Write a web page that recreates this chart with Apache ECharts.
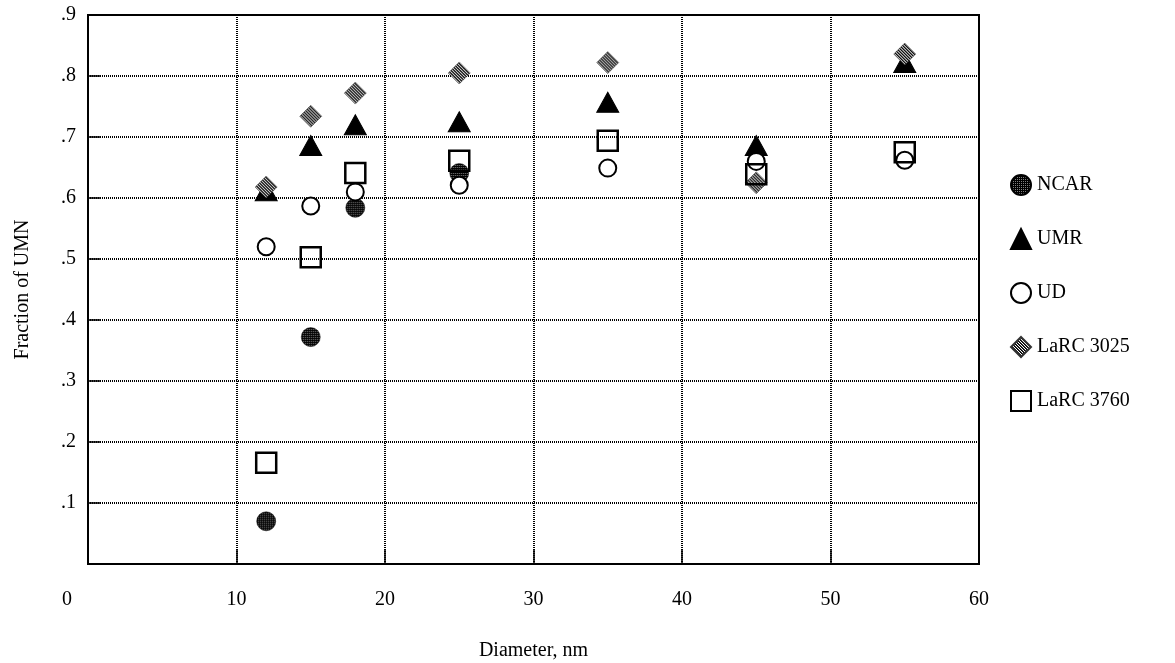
<!DOCTYPE html>
<html>
<head>
<meta charset="utf-8">
<script src="https://cdn.jsdelivr.net/npm/echarts@6/dist/echarts.min.js"></script>
<style>
  html, body { margin: 0; padding: 0; background: #fff; }
  #chart { width: 1175px; height: 663px; }
</style>
</head>
<body>
<div id="chart"></div>
<script>
// Particle diameters (nm) at which each instrument was compared
const diameters = [12, 15, 18, 25, 35, 45, 55];
// Fraction of UMN counts, per instrument (null = not measured)
const ncar     = [0.070, 0.372, 0.584, 0.641, null, null, null];
const umr      = [0.612, 0.686, 0.720, 0.725, 0.757, 0.686, 0.822];
const ud       = [0.520, 0.587, 0.610, 0.621, 0.649, 0.660, 0.662];
const larc3025 = [0.618, 0.734, 0.772, 0.805, 0.822, 0.625, 0.836];
const larc3760 = [0.166, 0.503, 0.641, 0.661, 0.694, 0.639, 0.675];

const seriesNames = ['NCAR', 'UMR', 'UD', 'LaRC 3025', 'LaRC 3760'];

const FONT = 'Liberation Serif';
const NCAR_SIZE = 19;
const DIAMOND_SIZE = 22;

// Scatter symbols are unit paths scaled by size/2, so a fill pattern
// is shrunk by the inverse factor to stay at one texel per pixel.
function stipplePattern(symbolSize) {
  const c = document.createElement('canvas');
  c.width = 2; c.height = 2;
  const g = c.getContext('2d');
  g.fillStyle = '#000';
  g.fillRect(0, 0, 2, 2);
  g.fillStyle = '#808080';
  g.fillRect(0, 0, 1, 1);
  const s = symbolSize ? 2 / symbolSize : 1;
  return { image: c, repeat: 'repeat', scaleX: s, scaleY: s };
}

// Diagonal hatching for the LaRC 3025 diamonds
function hatchPattern(symbolSize) {
  const c = document.createElement('canvas');
  c.width = 3; c.height = 3;
  const g = c.getContext('2d');
  g.fillStyle = '#fff';
  g.fillRect(0, 0, 3, 3);
  g.fillStyle = '#000';
  for (let i = 0; i < 3; i++) g.fillRect(i, i, 1, 1);
  g.fillStyle = '#333';
  for (let i = 0; i < 3; i++) g.fillRect((i + 1) % 3, i, 1, 1);
  const s = symbolSize ? 2 / symbolSize : 1;
  return { image: c, repeat: 'repeat', scaleX: s, scaleY: s };
}

function pairs(vals) {
  return diameters.map((d, i) => vals[i] == null ? null : [d, vals[i]]).filter(p => p);
}

const chart = echarts.init(document.getElementById('chart'), null, { renderer: 'canvas' });

const dotted = { color: '#000', width: 2, type: [1, 1] };

chart.setOption({
  animation: false,
  backgroundColor: '#fff',
  grid: {
    left: 88, right: 196, top: 15, bottom: 99,
    outerBoundsMode: 'none', containLabel: false,
    show: true, borderColor: '#000', borderWidth: 2, backgroundColor: 'transparent'
  },
  legend: {
    orient: 'vertical',
    left: 1005, top: 169,
    itemWidth: 20, itemHeight: 20, itemGap: 32,
    textStyle: { fontFamily: FONT, fontSize: 20, color: '#000', padding: [0, 0, 0, 1] },
    data: [
      { name: 'NCAR', itemStyle: { color: stipplePattern(0) } },
      { name: 'UMR' },
      { name: 'UD' },
      { name: 'LaRC 3025', itemStyle: { color: hatchPattern(0) } },
      { name: 'LaRC 3760' }
    ]
  },
  xAxis: {
    type: 'value', min: 0, max: 60, interval: 10,
    name: 'Diameter, nm', nameLocation: 'middle', nameGap: 77,
    nameTextStyle: { fontFamily: FONT, fontSize: 20, color: '#000' },
    axisLine: { show: true, lineStyle: { color: '#000', width: 2 } },
    axisTick: { show: true, inside: true, length: 14, lineStyle: { color: '#000', width: 1.5 } },
    splitLine: { show: true, lineStyle: dotted },
    axisLabel: {
      margin: 26, fontFamily: FONT, fontSize: 20, color: '#000',
      formatter: v => v === 0 ? '{z|0}' : String(v),
      rich: { z: { fontFamily: FONT, fontSize: 20, color: '#000', padding: [0, 42, 0, 0] } }
    }
  },
  yAxis: {
    type: 'value', min: 0, max: 0.9, interval: 0.1,
    name: 'Fraction of UMN', nameLocation: 'middle', nameGap: 55,
    nameTextStyle: { fontFamily: FONT, fontSize: 20, color: '#000' },
    axisLine: { show: true, lineStyle: { color: '#000', width: 2 } },
    axisTick: { show: true, inside: true, length: 12, lineStyle: { color: '#000', width: 1.5 } },
    splitLine: { show: true, lineStyle: dotted },
    axisLabel: {
      margin: 12, fontFamily: FONT, fontSize: 20, color: '#000', showMinLabel: false,
      formatter: v => v.toFixed(1).replace(/^0/, '')
    }
  },
  series: [
    {
      name: 'NCAR', type: 'scatter', data: pairs(ncar),
      symbol: 'circle', symbolSize: NCAR_SIZE,
      itemStyle: { color: stipplePattern(NCAR_SIZE), borderColor: '#000', borderWidth: 0.5, opacity: 1 }
    },
    {
      name: 'UMR', type: 'scatter', data: pairs(umr),
      symbol: 'triangle', symbolSize: [22, 20],
      itemStyle: { color: '#000', borderColor: '#000', borderWidth: 1, opacity: 1 }
    },
    {
      name: 'UD', type: 'scatter', data: pairs(ud),
      symbol: 'circle', symbolSize: 17,
      itemStyle: { color: '#fff', borderColor: '#000', borderWidth: 2, opacity: 1 }
    },
    {
      name: 'LaRC 3025', type: 'scatter', data: pairs(larc3025),
      symbol: 'diamond', symbolSize: DIAMOND_SIZE,
      itemStyle: { color: hatchPattern(DIAMOND_SIZE), borderColor: '#333', borderWidth: 0.5, opacity: 1 }
    },
    {
      name: 'LaRC 3760', type: 'scatter', data: pairs(larc3760),
      symbol: 'rect', symbolSize: 20,
      itemStyle: { color: 'rgba(255,255,255,0)', borderColor: '#000', borderWidth: 2.5, opacity: 1 }
    }
  ]
});
</script>
</body>
</html>
